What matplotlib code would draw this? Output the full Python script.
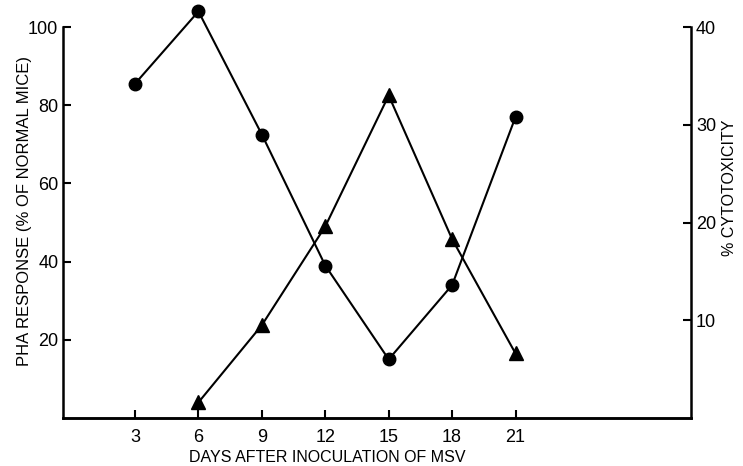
import matplotlib
matplotlib.use("Agg")
import matplotlib.pyplot as plt

days_pha = [3, 6, 9, 12, 15, 18, 21]
pha_response = [85.5, 104, 72.5, 39, 15, 34, 77]

days_cyto = [6, 9, 12, 15, 18, 21]
cytotoxicity = [1.6, 9.5, 19.6, 33, 18.3, 6.6]

x_ticks = [3, 6, 9, 12, 15, 18, 21]

plt.rcParams['font.family'] = ['Liberation Sans', 'DejaVu Sans']

fig = plt.figure(figsize=(7.43, 4.66), dpi=100)
ax = fig.add_axes([0.085, 0.103, 0.845, 0.839])
ax2 = ax.twinx()

ax.plot(days_pha, pha_response, color='black', lw=1.5, marker='o', ms=9,
        clip_on=False, zorder=3)
ax2.plot(days_cyto, cytotoxicity, color='black', lw=1.5, marker='^', ms=10,
         clip_on=False, zorder=3)

ax.set_xlim(-0.4, 29.3)
ax.set_ylim(0, 100)
ax2.set_ylim(0, 40)

ax.set_xticks(x_ticks)
ax.set_yticks([20, 40, 60, 80, 100])
ax2.set_yticks([10, 20, 30, 40])

for a in (ax, ax2):
    a.spines['top'].set_visible(False)
    for s in a.spines.values():
        s.set_linewidth(1.8)
    a.tick_params(direction='in', length=6, width=1.5, labelsize=13)
ax.spines['right'].set_visible(False)
ax2.spines['left'].set_visible(False)
ax.tick_params(axis='x', pad=8)

ax.set_xlabel('DAYS AFTER INOCULATION OF MSV', fontsize=11.5)
ax.xaxis.set_label_coords(0.42, -0.082)
ax.set_ylabel('PHA RESPONSE (% OF NORMAL MICE)', fontsize=12)
ax.yaxis.set_label_coords(-0.05, 0.53)
ax2.set_ylabel('% CYTOTOXICITY', fontsize=11.5)
ax2.yaxis.set_label_coords(1.05, 0.59)

fig.savefig('out.png', dpi=100)
